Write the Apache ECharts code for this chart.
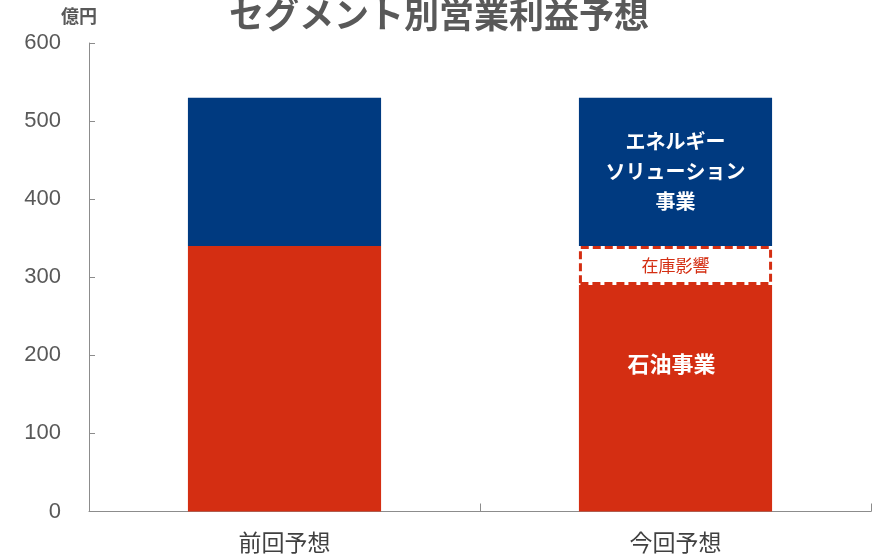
<!DOCTYPE html>
<html>
<head>
<meta charset="utf-8">
<script src="https://cdn.jsdelivr.net/npm/echarts@6/dist/echarts.min.js"></script>
<style>
html,body{margin:0;padding:0;background:#fff;}
#main{width:878px;height:558px;}
</style>
</head>
<body>
<div id="main"></div>
<script>
const titleText = 'セグメント別営業利益予想';
const unitText = '億円';
const categories = ['前回予想', '今回予想'];
const oilValues = [340, 290];
const inventoryValues = ['-', 50];
const energyValues = [190, 190];
const oilLabels = ['', '石油事業'];
const inventoryLabels = ['', '在庫影響'];
const energyLabels = ['', 'エネルギー\nソリューション\n事業'];
const yTicks = [0, 100, 200, 300, 400, 500, 600];

const CJK = '"Noto Sans CJK JP", "Noto Sans", sans-serif';
const RED = '#D42E12';
const BLUE = '#003A80';

function withLabels(values, labels, style) {
  return values.map((v, i) => labels[i] ? {
    value: v,
    label: Object.assign({ show: true, formatter: labels[i], position: 'inside' }, style)
  } : v);
}

const chart = echarts.init(document.getElementById('main'));
chart.setOption({
  animation: false,
  backgroundColor: '#fff',
  title: {
    text: titleText,
    left: 'center',
    top: -8,
    textStyle: { fontFamily: CJK, fontSize: 35, fontWeight: 'bold', color: '#595959' }
  },
  graphic: [{
    type: 'text',
    left: 61,
    top: 7,
    style: { text: unitText, font: 'bold 18px "Noto Sans CJK JP"', fill: '#595959' }
  }],
  grid: { left: 89, right: 7, top: 43, bottom: 46.5, containLabel: false },
  xAxis: {
    type: 'category',
    data: categories,
    axisLine: { lineStyle: { color: '#8c8c8c', width: 1 } },
    axisTick: { show: true, inside: true, length: 8, lineStyle: { color: '#8c8c8c' } },
    axisLabel: { fontFamily: CJK, fontSize: 23, color: '#404040', margin: 19 },
    splitLine: { show: false }
  },
  yAxis: {
    type: 'value',
    min: yTicks[0],
    max: yTicks[yTicks.length - 1],
    interval: 100,
    axisLine: { show: true, lineStyle: { color: '#8c8c8c', width: 1 } },
    axisTick: { show: true, inside: true, length: 6, lineStyle: { color: '#8c8c8c' } },
    axisLabel: { fontFamily: '"Liberation Sans", Arial, sans-serif', fontSize: 22, color: '#595959', margin: 28 },
    splitLine: { show: false }
  },
  series: [
    {
      name: '石油事業',
      type: 'bar',
      stack: 'total',
      barWidth: '49.4%',
      itemStyle: { color: RED },
      data: withLabels(oilValues, oilLabels, { color: '#fff', fontFamily: CJK, fontSize: 22, fontWeight: 'bold', offset: [-4, -35] })
    },
    {
      name: '在庫影響',
      type: 'bar',
      stack: 'total',
      itemStyle: { color: '#fff', borderColor: RED, borderWidth: 3, borderType: [8, 4] },
      data: withLabels(inventoryValues, inventoryLabels, { color: RED, fontFamily: CJK, fontSize: 17 })
    },
    {
      name: 'エネルギーソリューション事業',
      type: 'bar',
      stack: 'total',
      itemStyle: { color: BLUE },
      data: withLabels(energyValues, energyLabels, { color: '#fff', fontFamily: CJK, fontSize: 20, fontWeight: 'bold', lineHeight: 30, align: 'center' })
    }
  ]
});
</script>
</body>
</html>
